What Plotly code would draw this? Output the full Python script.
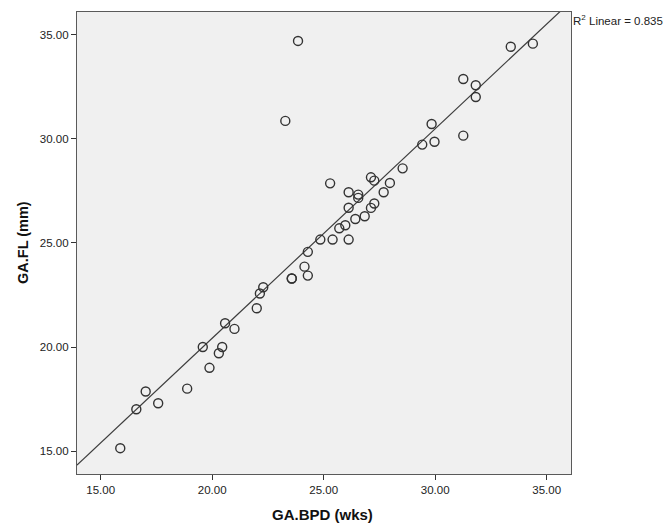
import plotly.graph_objects as go

ga_bpd = [15.88, 16.60, 17.02, 17.58, 18.88, 19.88, 19.58, 20.45, 20.30, 20.58,
          21.00, 22.00, 22.14, 22.29, 23.57, 23.57, 24.14, 24.29, 24.29, 24.85,
          25.40, 26.12, 25.70, 25.97, 26.42, 26.84, 26.12, 27.12, 27.27, 26.55,
          26.55, 26.12, 25.29, 27.12, 27.27, 27.69, 27.97, 28.54, 29.42, 29.97,
          29.84, 31.26, 31.82, 31.82, 31.26, 33.39, 34.38, 23.28, 23.85]
ga_fl = [15.14, 17.01, 17.86, 17.30, 18.00, 19.00, 20.00, 20.00, 19.70, 21.14,
         20.87, 21.86, 22.57, 22.87, 23.29, 23.29, 23.86, 23.43, 24.57, 25.16,
         25.16, 25.16, 25.70, 25.85, 26.15, 26.28, 26.69, 26.68, 26.89, 27.16,
         27.32, 27.43, 27.86, 28.15, 27.99, 27.43, 27.88, 28.58, 29.72, 29.86,
         30.71, 30.15, 32.01, 32.57, 32.87, 34.42, 34.57, 30.86, 34.70]

# Linear fit line as shown in the reference
fit_slope = 1.006
fit_intercept = 0.30

tick_vals = [15, 20, 25, 30, 35]
tick_text = ["15.00", "20.00", "25.00", "30.00", "35.00"]
x_range = [13.94, 36.09]
y_range = [13.9, 36.09]
r2_label = "R<sup>2</sup> Linear = 0.835"
x_title = "<b>GA.BPD (wks)</b>"
y_title = "<b>GA.FL (mm)</b>"

line_x = list(x_range)
line_y = [fit_slope * v + fit_intercept for v in line_x]

fig = go.Figure()
fig.add_trace(go.Scatter(x=line_x, y=line_y, mode="lines",
                         line=dict(color="#3c3c3c", width=1.2),
                         hoverinfo="skip", showlegend=False))
fig.add_trace(go.Scatter(x=ga_bpd, y=ga_fl, mode="markers",
                         marker=dict(symbol="circle-open", size=9,
                                     color="#333333", line=dict(width=1.4)),
                         showlegend=False))

font_family = "Liberation Sans, Arial, sans-serif"
axis_common = dict(showgrid=False, zeroline=False, showline=True, mirror=True,
                   linecolor="#5a5a5a", linewidth=1.2, ticks="outside",
                   ticklen=5, tickwidth=1, tickcolor="#333333",
                   tickvals=tick_vals, ticktext=tick_text, automargin=False,
                   tickfont=dict(family=font_family, size=11.5, color="#222222"))

fig.update_layout(
    width=665, height=526,
    margin=dict(l=77, r=94, t=12, b=52, autoexpand=False),
    paper_bgcolor="white", plot_bgcolor="#f0f0f0",
    font=dict(family=font_family),
    xaxis=dict(range=x_range, **axis_common),
    yaxis=dict(range=y_range, **axis_common),
    annotations=[
        dict(text=r2_label, xref="paper", yref="paper", x=1.0, y=1.0,
             xanchor="left", yanchor="top", xshift=0, yshift=1,
             showarrow=False,
             font=dict(family=font_family, size=11.5, color="#222222")),
        dict(text=x_title, xref="paper", yref="paper", x=0.497, y=0,
             xanchor="center", yanchor="middle", yshift=-40, showarrow=False,
             font=dict(family=font_family, size=15, color="#111111")),
        dict(text=y_title, xref="paper", yref="paper", x=0, y=0.5,
             xanchor="center", yanchor="middle", xshift=-54, textangle=-90,
             showarrow=False,
             font=dict(family=font_family, size=14.5, color="#111111")),
    ],
)

fig.write_html("out.html")
